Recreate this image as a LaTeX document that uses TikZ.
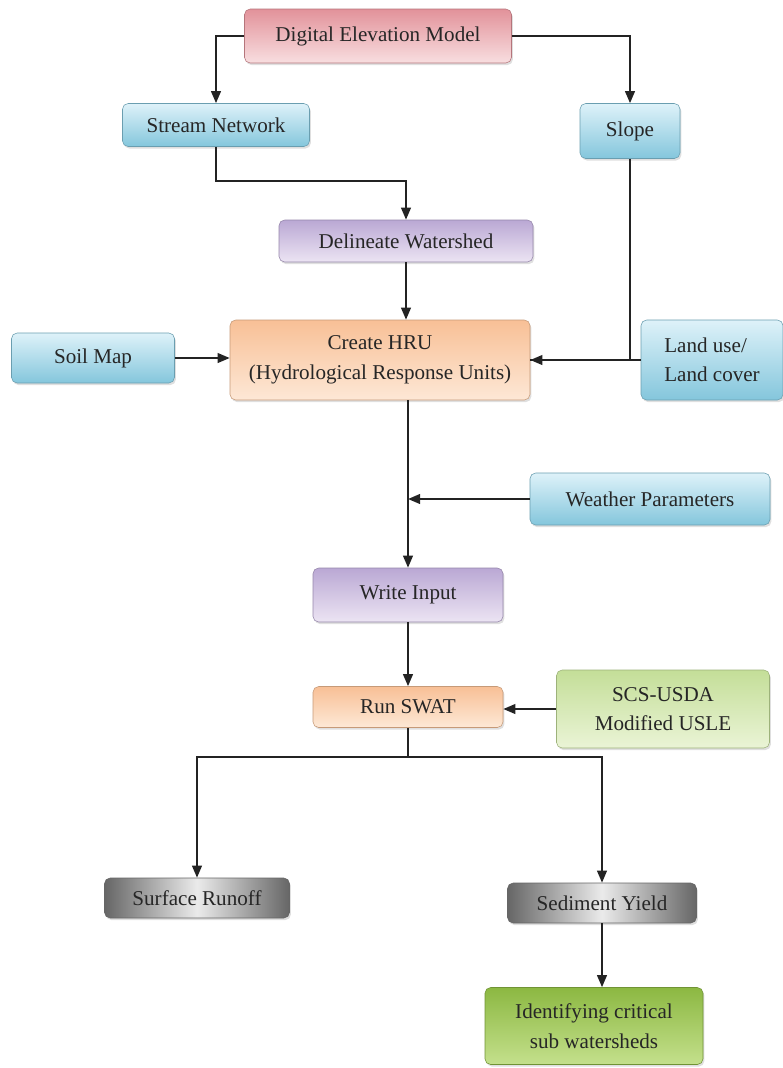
\documentclass[tikz,border=0pt]{standalone}
\usepackage{fontspec}
\setmainfont{Liberation Serif}
\usepackage{tikz}
\usetikzlibrary{shadows}
\usetikzlibrary{arrows.meta}

\definecolor{demtop}{RGB}{226,146,154}
\definecolor{dembot}{RGB}{248,222,224}
\definecolor{bluetop}{RGB}{222,242,249}
\definecolor{bluebot}{RGB}{132,198,220}
\definecolor{purptop}{RGB}{186,168,212}
\definecolor{purpbot}{RGB}{236,228,243}
\definecolor{orantop}{RGB}{248,192,150}
\definecolor{oranbot}{RGB}{253,232,214}
\definecolor{greentop}{RGB}{196,222,152}
\definecolor{greenbot}{RGB}{234,244,214}
\definecolor{leaftop}{RGB}{140,184,66}
\definecolor{leafbot}{RGB}{196,224,140}
\definecolor{flowline}{RGB}{35,35,35}

\begin{document}
\begin{tikzpicture}[
    x = 0.025cm, y = -0.025cm,
    box/.style     = {rounded corners=4pt, align=center, inner sep=0pt,
      text=black!85, font=\fontsize{15}{21}\selectfont,
      drop shadow={shadow xshift=1pt, shadow yshift=-1.5pt, opacity=0.25}},
    size/.style 2 args = {minimum width=#1*0.025cm, minimum height=#2*0.025cm},
    dem/.style     = {box, draw=demtop!80!black, top color=demtop, bottom color=dembot},
    inputs/.style  = {box, draw=bluebot!80!black, top color=bluetop, bottom color=bluebot},
    steps/.style   = {box, draw=purptop!80!black, top color=purptop, bottom color=purpbot},
    runs/.style    = {box, draw=orantop!80!black, top color=orantop, bottom color=oranbot},
    usle/.style    = {box, draw=greentop!80!black, top color=greentop, bottom color=greenbot},
    outputs/.style = {box, draw=black!60, left color=black!60, right color=black!60,
      middle color=black!8},
    critical/.style = {box, draw=leaftop!80!black, top color=leaftop, bottom color=leafbot},
    line/.style    = {draw=flowline, line width=1.4pt},
    flow/.style    = {line, -{Triangle[length=3mm, width=2.4mm]}}
  ]
  \useasboundingbox (0,0) rectangle (783,1068);

  \node [dem, size={267}{54}] (dem) at (378,36) {Digital Elevation Model};
  \node [inputs, size={187}{43}] (stream) at (216,125) {Stream Network};
  \node [inputs, size={100}{55}] (slope) at (630,131) {Slope};
  \node [steps, size={254}{42}] (delin) at (406,241) {Delineate Watershed};
  \node [inputs, size={163}{50}] (soil) at (93,358) {Soil Map};
  \node [runs, size={300}{80}] (hru) at (380,360) {Create HRU\\(Hydrological Response Units)};
  \node [inputs, size={142}{80}, align=left] (land) at (712,360) {Land use/\\Land cover};
  \node [inputs, size={240}{52}] (weather) at (650,499) {Weather Parameters};
  \node [steps, size={190}{54}] (write) at (408,595) {Write Input};
  \node [runs, size={190}{41}] (run) at (408,707) {Run SWAT};
  \node [usle, size={213}{78}] (scs) at (663,709) {SCS-USDA\\Modified USLE};
  \node [outputs, size={185}{40}] (surface) at (197,898) {Surface Runoff};
  \node [outputs, size={189}{40}] (sed) at (602,903) {Sediment Yield};
  \node [critical, size={218}{77}] (ident) at (594,1026) {Identifying critical\\sub watersheds};

  \coordinate (split) at (408,757);

  \draw [flow] (dem.west) -| (stream.north);
  \draw [flow] (dem.east) -| (slope.north);
  \draw [flow] (stream.south) -- ++(0,34) -| (delin.north);
  \draw [flow] (delin.south) -- (delin.south |- hru.north);
  \draw [flow] (soil.east) -- (soil.east -| hru.west);
  \draw [line] (slope.south) |- (hru.east);
  \draw [flow] (land.west) -- (hru.east);
  \draw [flow] (write.north |- hru.south) -- (write.north);
  \draw [flow] (weather.west) -- (weather.west -| write.north);
  \draw [flow] (write.south) -- (run.north);
  \draw [flow] (scs.west) -- (scs.west -| run.east);
  \draw [line] (run.south) -- (split);
  \draw [flow] (split) -| (surface.north);
  \draw [flow] (split) -| (sed.north);
  \draw [flow] (sed.south) -- (sed.south |- ident.north);
\end{tikzpicture}
\end{document}
